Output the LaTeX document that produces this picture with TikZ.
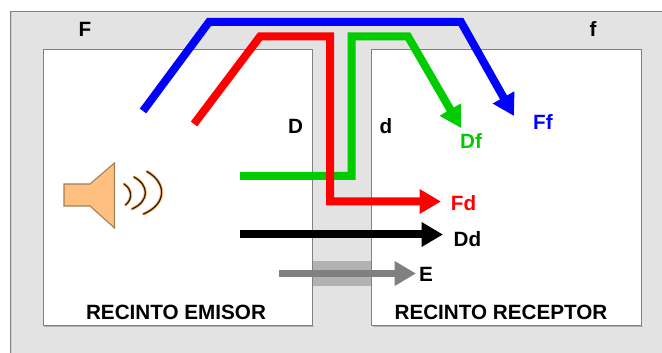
\documentclass[tikz,border=0pt]{standalone}
\usepackage{fontspec}
\setmainfont{Liberation Sans}
\usetikzlibrary{arrows.meta}
\definecolor{panel}{HTML}{E3E3E3}
\definecolor{edge}{HTML}{808080}
\definecolor{band}{HTML}{B2B2B2}
\definecolor{gris}{HTML}{808080}
\definecolor{verde}{HTML}{00CC00}
\definecolor{spk}{HTML}{FFBF80}
\definecolor{spkedge}{HTML}{A08050}
\tikzset{
  room/.style={draw=edge,fill=white,line width=0.75pt},
  lbl/.style={font=\fontsize{15.5}{17}\selectfont\bfseries,inner sep=0pt,anchor=center},
  pathline/.style={line width=6pt,line join=miter,-{Triangle[length=16pt,width=17.5pt]}},
  wave/.style={line width=1pt,draw=black!75!brown,line cap=round},
  waveglow/.style={line width=2.4pt,draw=spk,line cap=round}
}
\begin{document}
\begin{tikzpicture}[x=0.75pt,y=-0.75pt]
\useasboundingbox (0,0) rectangle (662,353);
\fill[white] (0,0) rectangle (662,353);
\draw[edge,fill=panel,line width=1pt] (10.5,11.5) rectangle (680,370);
\draw[band!40!panel,line width=1pt] (11.5,12) -- (11.5,370);
\fill[gray!60] (44,327) rectangle (314,326);
\fill[gray!60] (373,327) rectangle (643,326);
\node[room,minimum width=269.5pt*0.75,minimum height=276pt*0.75,inner sep=0pt,anchor=north west] (roomA) at (42.8,49.3) {};
\node[room,minimum width=269.5pt*0.75,minimum height=276pt*0.75,inner sep=0pt,anchor=north west] (roomB) at (371.4,49.3) {};
\fill[band] (312.6,261) rectangle (371.2,286);
% speaker
\draw[fill=spk,draw=spkedge,line width=0.8pt,line join=miter] (64,184) -- (90,184) -- (114.5,163) -- (114.5,228) -- (90,206) -- (64,206) -- cycle;
\foreach \st in {waveglow,wave}{
  \draw[\st] (124,184) .. controls (132,189) and (133,199) .. (125.5,205);
  \draw[\st] (134,177) .. controls (149,185) and (150,201) .. (132,209);
  \draw[\st] (147,171.5) .. controls (167,183) and (167,204) .. (143.5,214);
}
% labels
\node[lbl] (F) at (85,29) {F};
\node[lbl] (f) at (593,29) {f};
\node[lbl] (D) at (295.5,126) {D};
\node[lbl] (d) at (386,126) {d};
\node[lbl,text=verde] (Df) at (471,141) {Df};
\node[lbl,text=blue] (Ff) at (543,122) {Ff};
\node[lbl,text=red] (Fd) at (463.5,203.5) {Fd};
\node[lbl] (Dd) at (467.5,239.5) {Dd};
\node[lbl] (E) at (426,274) {E};
\node[lbl] (nA) at (176,312.5) {RECINTO EMISOR};
\node[lbl] (nB) at (501,312.5) {RECINTO RECEPTOR};
% connector ends
\coordinate (b0) at (143,111);
\coordinate (b1) at (209,22);
\coordinate (b2) at (461,22);
\coordinate (b3) at (514,116);
\coordinate (r0) at (194,124);
\coordinate (r1) at (260,36.5);
\coordinate (r2) at (330,36.5);
\coordinate (r3) at (330,201.5);
\coordinate (r4) at (441,201.5);
\coordinate (g0) at (240,176);
\coordinate (g1) at (351.5,176);
\coordinate (g2) at (351.5,36.5);
\coordinate (g3) at (408,36.5);
\coordinate (g4) at (461,128);
\coordinate (k0) at (240,234.5);
\coordinate (k1) at (443,234.5);
\coordinate (e0) at (279,273.5);
\coordinate (e1) at (416,273.5);
\draw[pathline,draw=verde] (g0) -- (g1) -- (g2) -- (g3) -- (g4);
\draw[pathline,draw=red] (r0) -- (r1) -- (r2) -- (r3) -- (r4);
\draw[pathline,draw=blue] (b0) -- (b1) -- (b2) -- (b3);
\draw[pathline,draw=black] (k0) -- (k1);
\draw[pathline,draw=gris,line width=5.2pt] (e0) -- (e1);
\end{tikzpicture}
\end{document}
